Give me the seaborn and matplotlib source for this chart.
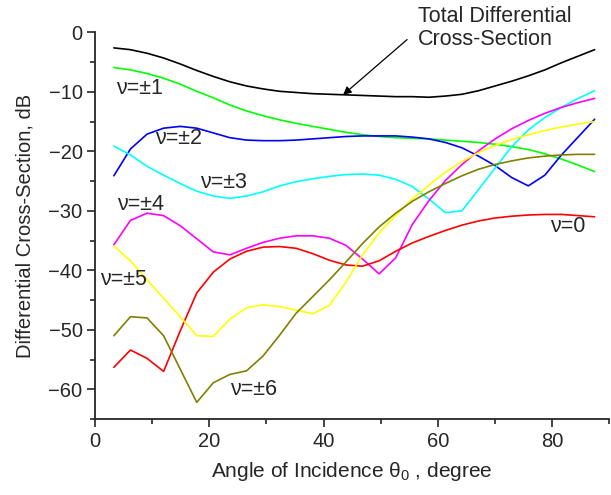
import matplotlib
matplotlib.use("Agg")
import matplotlib.pyplot as plt
import seaborn as sns
import pandas as pd
from matplotlib.ticker import MultipleLocator

angles = [3.3, 6.2, 9.1, 12.0, 14.9, 17.8, 20.7, 23.6, 26.5, 29.4,
          32.3, 35.2, 38.1, 41.0, 43.9, 46.8, 49.7, 52.6, 55.5, 58.4,
          61.3, 64.2, 67.1, 70.0, 72.9, 75.8, 78.7, 81.6, 84.5, 87.4]

total = [-2.6, -2.9, -3.5, -4.3, -5.3, -6.4, -7.4, -8.3, -9.0, -9.5,
         -9.9, -10.1, -10.3, -10.4, -10.5, -10.6, -10.7, -10.8, -10.8, -10.9,
         -10.7, -10.4, -9.8, -9.0, -8.2, -7.3, -6.3, -5.1, -4.0, -2.9]
nu1 = [-5.9, -6.3, -6.9, -7.7, -8.7, -9.9, -11.0, -12.2, -13.2, -14.0,
       -14.7, -15.3, -15.8, -16.3, -16.8, -17.2, -17.5, -17.7, -17.8, -17.9,
       -18.1, -18.3, -18.5, -18.8, -19.2, -19.7, -20.4, -21.3, -22.3, -23.4]
nu2 = [-24.1, -19.6, -17.1, -16.1, -15.8, -16.1, -16.9, -17.7, -18.1, -18.2,
       -18.2, -18.1, -17.9, -17.7, -17.5, -17.4, -17.4, -17.4, -17.6, -17.9,
       -18.5, -19.4, -20.8, -22.4, -24.4, -25.8, -24.0, -20.6, -17.6, -14.6]
nu3 = [-19.1, -20.6, -22.5, -24.0, -25.4, -26.7, -27.5, -27.9, -27.5, -26.8,
       -25.8, -25.1, -24.6, -24.2, -23.9, -23.8, -24.0, -24.7, -25.9, -28.0,
       -30.3, -30.0, -26.4, -22.8, -19.2, -16.4, -14.3, -12.6, -11.1, -9.8]
nu4 = [-35.7, -31.6, -30.4, -30.8, -32.5, -34.7, -36.9, -37.4, -36.3, -35.3,
       -34.6, -34.2, -34.2, -34.6, -35.8, -38.1, -40.6, -37.9, -32.3, -28.3,
       -24.9, -22.2, -19.9, -17.9, -16.2, -14.8, -13.6, -12.6, -11.8, -11.1]
nu0 = [-56.3, -53.4, -54.8, -57.0, -50.2, -43.8, -40.3, -38.1, -36.8, -36.1,
       -36.0, -36.3, -37.2, -38.3, -39.1, -39.3, -38.4, -36.8, -35.4, -34.3,
       -33.3, -32.4, -31.7, -31.2, -30.9, -30.7, -30.6, -30.6, -30.8, -31.0]
nu5 = [-35.9, -38.4, -41.6, -44.7, -47.8, -51.0, -51.1, -48.2, -46.3, -45.8,
       -46.1, -46.7, -47.3, -45.9, -42.0, -37.4, -33.7, -30.8, -28.0, -25.7,
       -23.5, -21.7, -20.2, -19.0, -18.0, -17.2, -16.5, -15.9, -15.4, -15.0]
nu6 = [-51.0, -47.8, -48.0, -51.0, -56.6, -62.2, -58.9, -57.5, -56.9, -54.4,
       -50.9, -47.2, -44.4, -41.6, -38.6, -35.5, -32.7, -30.4, -28.4, -26.8,
       -25.4, -24.1, -23.0, -22.2, -21.6, -21.1, -20.8, -20.6, -20.5, -20.5]

series_names = ["total", "nu1", "nu2", "nu3", "nu4", "nu0", "nu5", "nu6"]
series_values = [total, nu1, nu2, nu3, nu4, nu0, nu5, nu6]
series_colors = ["#000000", "#00FF00", "#0000FF", "#00FFFF", "#FF00FF",
                 "#FF0000", "#FFFF00", "#808000"]

label_texts = ["ν=±1", "ν=±2", "ν=±3", "ν=±4", "ν=±5", "ν=±6", "ν=0"]
label_x = [3.7, 10.5, 18.4, 3.8, 0.9, 23.6, 79.6]
label_y = [-9.5, -17.8, -25.2, -29.0, -41.6, -60.0, -32.6]

rows = []
for name, vals in zip(series_names, series_values):
    for a, v in zip(angles, vals):
        rows.append({"angle": a, "value": v, "series": name})
df = pd.DataFrame(rows)

sns.set_style("ticks")
plt.rcParams["font.family"] = ["Liberation Sans", "DejaVu Sans"]
plt.rcParams["mathtext.fontset"] = "custom"
plt.rcParams["mathtext.rm"] = "Liberation Sans"
plt.rcParams["mathtext.default"] = "regular"

fig = plt.figure(figsize=(6.11, 4.95), dpi=100)
ax = fig.add_axes([0.1555, 0.1535, 0.842, 0.781])

sns.lineplot(data=df, x="angle", y="value", hue="series",
             palette=dict(zip(series_names, series_colors)),
             hue_order=series_names, estimator=None, sort=False,
             linewidth=1.2, legend=False, ax=ax)

ax.set_xlim(0, 90)
ax.set_ylim(-65, 0)
ax.xaxis.set_major_locator(MultipleLocator(20))
ax.xaxis.set_minor_locator(MultipleLocator(10))
ax.yaxis.set_major_locator(MultipleLocator(10))
ax.yaxis.set_minor_locator(MultipleLocator(5))
ax.tick_params(which="major", length=6, width=1.2, labelsize=14.5,
               direction="out", pad=3)
ax.tick_params(which="minor", length=3.5, width=1.2, direction="out")
for s in ["top", "right"]:
    ax.spines[s].set_visible(False)
for s in ["left", "bottom"]:
    ax.spines[s].set_linewidth(1.3)

ax.set_xlabel("Angle of Incidence θ$_{0}$ , degree", fontsize=15, labelpad=7)
ax.set_ylabel("Differential Cross-Section, dB", fontsize=14.5, labelpad=10)

for t, x, y in zip(label_texts, label_x, label_y):
    ax.text(x, y, t, fontsize=15.5, ha="left", va="center")

ax.text(56.5, 0.7, "Total Differential\nCross-Section", fontsize=15.5,
        ha="left", va="center", linespacing=1.15, clip_on=False)
ax.annotate("", xy=(43.4, -10.5), xytext=(54.6, -1.2), textcoords="data",
            annotation_clip=False,
            arrowprops=dict(arrowstyle="-|>", color="black", lw=0.9,
                            shrinkA=0, shrinkB=0, mutation_scale=12))

fig.savefig("out.png", dpi=100)
